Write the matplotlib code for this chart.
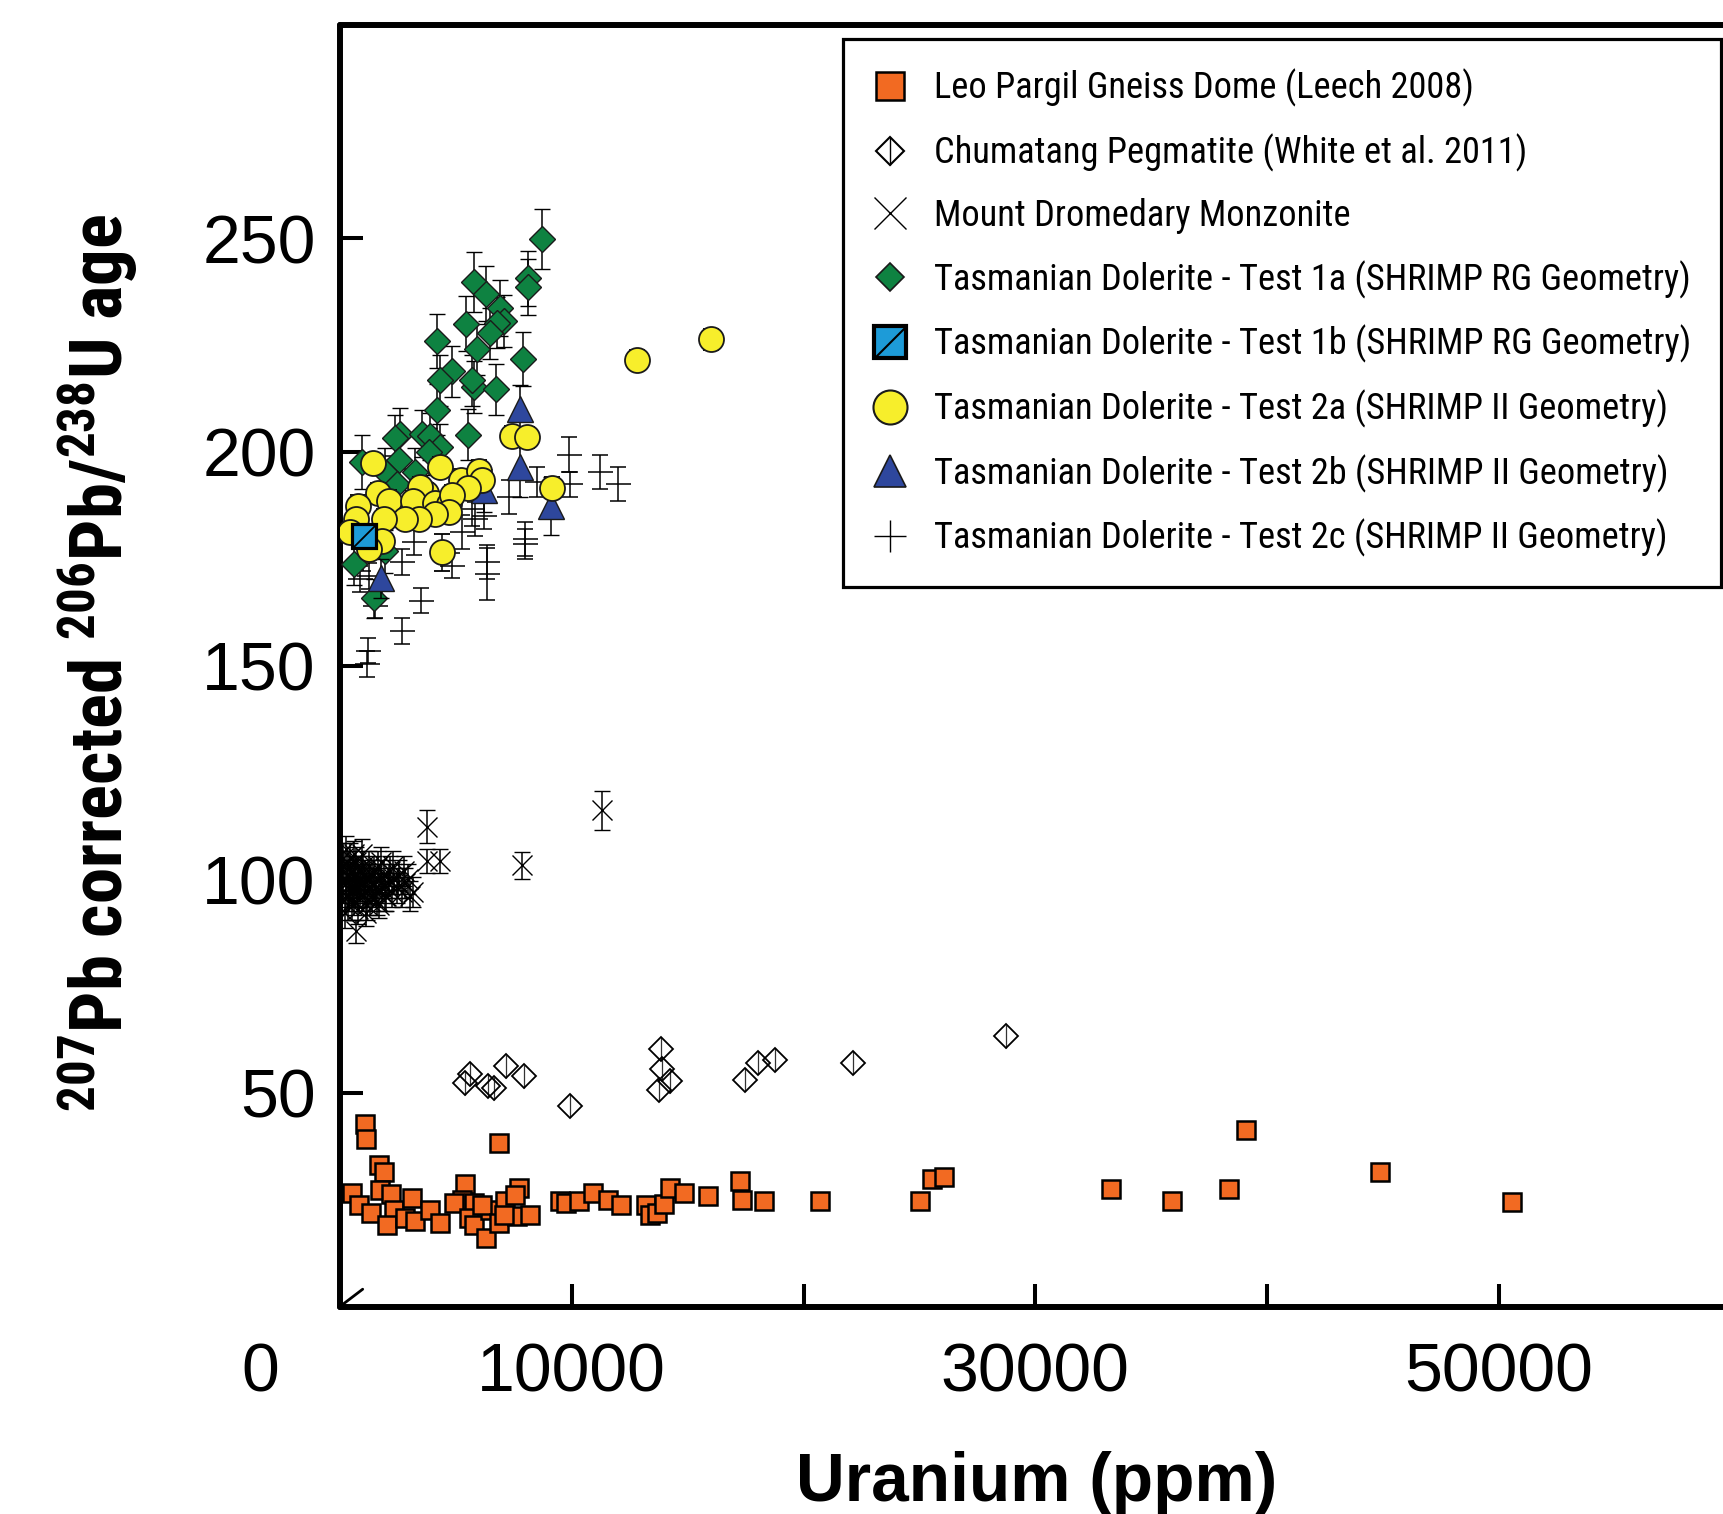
import matplotlib
matplotlib.use('Agg')
import matplotlib.pyplot as plt
from matplotlib import font_manager as fm
from matplotlib.lines import Line2D
from matplotlib.path import Path
from matplotlib.legend_handler import HandlerTuple

# ---------------- data ----------------
# Leo Pargil Gneiss Dome (Leech 2008)
lp_x = [1071, 1129, 6851, 1675, 1891, 525, 813, 1316, 1718, 2208, 2323, 2035, 3113, 2826, 3257,
        3904, 4336, 5414, 5270, 4910, 5773, 5557, 5773, 6320, 6463, 6133, 6851, 7140, 7714, 7571,
        7643, 8218, 7067, 9512, 9771, 10302, 10906, 11553, 12131, 13223, 13395, 13684, 13969, 14258,
        14832, 15868, 17278, 17352, 18314, 20690, 25022, 25539, 26061, 33244, 35893, 38356, 39107,
        44892, 50548]
lp_y = [42.7, 39.2, 38.2, 33.2, 31.4, 26.5, 23.8, 21.8, 27.3, 26.4, 22.6, 19.1, 25.4, 20.7, 20.1,
        22.6, 19.6, 28.7, 25.0, 24.2, 24.3, 20.7, 19.1, 16.0, 22.6, 23.8, 19.5, 24.6, 27.7, 26.1,
        21.2, 21.4, 21.4, 24.6, 24.2, 24.6, 26.5, 25.0, 23.8, 23.8, 21.4, 21.8, 24.0, 27.7,
        26.5, 25.9, 29.3, 25.0, 24.8, 24.6, 24.8, 29.8, 30.2, 27.6, 24.6, 27.4, 41.2,
        31.5, 24.4]

# Chumatang Pegmatite (White et al. 2011)
ch_x = [5410, 5626, 6398, 6648, 7174, 7934, 9918, 13745, 13861, 13912, 14241, 17459, 18037, 18783,
        22135, 28736]
ch_y = [52.3, 54.5, 51.7, 51.1, 56.2, 53.9, 47.0, 50.7, 60.3, 55.6, 52.7, 53.1, 57.0, 57.8, 57.0, 63.2]
ch_err = [2.7, 2.7, 2.7, 2.7, 2.7, 2.7, 2.7, 2.7, 2.7, 2.7, 2.7, 2.7, 2.7, 2.7, 2.7, 2.7]

# Mount Dromedary Monzonite
md_x = [120, 180, 260, 300, 340, 380, 420, 470, 520, 560, 610, 650, 700, 760, 800, 850, 900, 950,
        1000, 1050, 1100, 1160, 1200, 1260, 1300, 1360, 1420, 1480, 1540, 1600, 1680, 1750, 1820,
        1900, 1980, 2060, 2150, 2250, 2350, 2450, 2560, 2680, 2800, 2950, 3150,
        60, 90, 150, 220, 280, 330, 400, 450, 500, 580, 630, 720, 780, 880, 980, 1080, 1180, 1280,
        1400, 1520, 1650, 1780, 1950, 2100, 2300, 2500, 2750, 3000, 240, 620, 1120, 1700,
        669, 3762, 3762, 4336, 7860, 11283]
md_y = [99, 103, 96, 101, 94, 98, 105, 100, 97, 102, 95, 99, 104, 93, 100, 97, 102, 106, 96, 99,
        101, 94, 98, 103, 100, 96, 99, 102, 97, 95, 100, 104, 98, 101, 96, 99, 102, 97, 100, 98,
        101, 97, 99, 100, 97,
        101, 97, 105, 92, 99, 103, 96, 100, 94, 98, 101, 97, 102, 99, 103, 97, 100, 95, 101, 98,
        103, 99, 96, 100, 103, 99, 102, 96, 107, 106, 92, 94,
        87.8, 112.3, 104.2, 104.2, 103.2, 116.1]
md_err = [3.5, 3.5, 3.5, 3.5, 3.5, 3.5, 3.5, 3.5, 3.5, 3.5, 3.5, 3.5, 3.5, 3.5, 3.5, 3.5, 3.5, 3.5,
          3.5, 3.5, 3.5, 3.5, 3.5, 3.5, 3.5, 3.5, 3.5, 3.5, 3.5, 3.5, 3.5, 3.5, 3.5, 3.5, 3.5, 3.5,
          3.5, 3.5, 3.5, 3.5, 3.5, 3.5, 3.5, 3.5, 3.5,
          3.5, 3.5, 3.5, 3.5, 3.5, 3.5, 3.5, 3.5, 3.5, 3.5, 3.5, 3.5, 3.5, 3.5, 3.5, 3.5, 3.5, 3.5,
          3.5, 3.5, 3.5, 3.5, 3.5, 3.5, 3.5, 3.5, 3.5, 3.5, 3.0, 3.0, 3.0, 3.0,
          2.7, 3.9, 2.8, 2.8, 3.1, 4.6]

# Tasmanian Dolerite - Test 1a (SHRIMP RG Geometry)
ta_x = [8736, 8103, 8103, 5773, 6320, 6895, 7097, 6780, 6463, 5457, 4193, 5918, 7903, 4853, 4335,
        5802, 6737, 5702, 4193, 5530, 2610, 2394, 3546, 3904, 4336, 3831, 2537, 957, 3257, 1963,
        2467, 596, 1488, 1963]
ta_y = [249.8, 240.6, 238.6, 239.8, 237.0, 233.7, 230.6, 230.2, 227.7, 230.0, 225.9, 224.0, 221.7,
        218.8, 216.7, 215.2, 214.6, 216.7, 209.9, 204.0, 204.2, 203.2, 204.2, 203.7, 201.1, 200.0,
        198.0, 197.6, 195.3, 195.3, 192.5, 173.8, 165.7, 176.7]
ta_err = [7.0, 6.5, 6.5, 7.0, 6.5, 6.5, 6.0, 6.0, 6.0, 6.5, 6.3, 6.0, 6.3, 6.0, 6.0, 6.0, 6.0, 6.0,
          6.0, 6.0, 6.0, 5.5, 5.5, 5.5, 5.5, 5.5, 5.5, 6.3, 5.5, 5.5, 5.5, 5.0, 4.5, 5.0]

# Tasmanian Dolerite - Test 1b (SHRIMP RG Geometry)
tb_x = [1027]
tb_y = [180.4]

# Tasmanian Dolerite - Test 2a (SHRIMP II Geometry)
yc_x = [12804, 16027, 7442, 8063, 9150, 1432, 4336, 5242, 6018, 6134, 5531, 1648, 2106, 785, 3689,
        3473, 3141, 4120, 4695, 4840, 4695, 4120, 3400, 2826, 1890, 669, 453, 1820, 1243, 4409]
yc_y = [221.5, 226.3, 203.7, 203.4, 191.6, 197.4, 196.4, 193.5, 195.6, 193.5, 191.5, 190.4, 188.6,
        187.4, 190.4, 191.7, 188.4, 188.1, 187.8, 189.8, 185.9, 185.5, 184.3, 184.3, 184.3, 184.3,
        181.2, 179.2, 177.3, 176.5]
yc_err = [2.4, 2.4, 2.4, 2.4, 2.4, 2.4, 2.4, 2.4, 2.4, 2.4, 2.4, 2.4, 2.4, 2.4, 2.4, 2.4, 2.4, 2.4,
          2.4, 2.4, 2.4, 2.4, 2.4, 2.4, 2.4, 2.4, 2.4, 2.4, 2.4, 4.3]

# Tasmanian Dolerite - Test 2b (SHRIMP II Geometry)
tr_x = [7787, 7787, 9124, 1790, 6230]
tr_y = [210.1, 196.4, 187.3, 170.4, 191.0]
tr_err = [5.5, 7.0, 6.8, 4.5, 5.0]

# Tasmanian Dolerite - Test 2c (SHRIMP II Geometry)
pc_x = [9871, 11208, 11985, 9944, 8507, 7282, 8003, 7974, 6349, 6349, 5270, 5702, 5846, 4839, 3516,
        2683, 1216, 1173, 2683, 3184, 884, 1243, 1531, 6212, 2300, 1000, 600]
pc_y = [199.3, 195.3, 192.4, 192.4, 192.9, 189.4, 179.6, 178.5, 171.4, 174.2, 181.2, 186.7, 184.3,
        173.4, 165.2, 158.1, 153.5, 150.3, 174.2, 178.9, 170.3, 171.0, 164.0, 185.0, 196.0, 175.0,
        182.0]
pc_err = [4.1, 4.0, 4.0, 2.9, 3.5, 4.0, 3.9, 3.5, 6.0, 4.0, 4.0, 4.0, 4.0, 3.0, 3.0, 3.0, 3.0, 3.0,
          3.0, 3.0, 3.0, 3.0, 3.0, 3.0, 3.0, 3.0, 3.0]

x_ticks = [10000, 20000, 30000, 40000, 50000]
x_ticklabels = ['10000', '', '30000', '', '50000']
y_ticks = [50, 100, 150, 200, 250]
y_ticklabels = ['50', '100', '150', '200', '250']
origin_label = '0'

labels = ['Leo Pargil Gneiss Dome (Leech 2008)',
          'Chumatang Pegmatite (White et al. 2011)',
          'Mount Dromedary Monzonite',
          'Tasmanian Dolerite - Test 1a (SHRIMP RG Geometry)',
          'Tasmanian Dolerite - Test 1b (SHRIMP RG Geometry)',
          'Tasmanian Dolerite - Test 2a (SHRIMP II Geometry)',
          'Tasmanian Dolerite - Test 2b (SHRIMP II Geometry)',
          'Tasmanian Dolerite - Test 2c (SHRIMP II Geometry)']

# ---------------- style ----------------
ORANGE = '#F26A22'
GREEN = '#0E8241'
YELLOW = '#F7EE2B'
BLUE_TRI = '#2E479D'
BLUE_SQ = '#1D9BD8'

names = {f.name for f in fm.fontManager.ttflist}


def pick(*cands):
    for n in cands:
        if n in names:
            return n
    return 'DejaVu Sans'


SANS = pick('Liberation Sans', 'Arial', 'DejaVu Sans')
NARROW = pick('Liberation Sans Narrow', 'Roboto Condensed', 'Liberation Sans')
LEG = pick('Liberation Sans Narrow', 'Roboto Condensed', 'Lato', 'Open Sans')

plt.rcParams['font.family'] = [SANS, 'DejaVu Sans']
plt.rcParams['mathtext.fontset'] = 'custom'
plt.rcParams['mathtext.rm'] = NARROW
plt.rcParams['mathtext.bf'] = NARROW + ':bold'
plt.rcParams['mathtext.it'] = NARROW + ':italic'

W, H, DPI = 1723, 1514, 100
PT = DPI / 72.0
fig = plt.figure(figsize=(W / DPI, H / DPI), dpi=DPI)
renderer = fig.canvas.get_renderer()

ax = fig.add_axes([340 / W, 1 - 1306.5 / H, 1437 / W, 1282 / H])
ax.set_xlim(0, 62000)
ax.set_ylim(0, 300)

for s in ['left', 'top', 'bottom']:
    ax.spines[s].set_linewidth(4.3)
    ax.spines[s].set_capstyle('round')
ax.spines['right'].set_visible(False)

ax.set_xticks(x_ticks)
ax.set_xticklabels(x_ticklabels)
ax.set_yticks(y_ticks)
ax.set_yticklabels(y_ticklabels)
ax.tick_params(axis='both', direction='in', length=16.5, width=2.9, labelsize=49)
ax.tick_params(axis='x', pad=25)
ax.tick_params(axis='y', pad=17.5)

# origin: diagonal tick and shared "0" label
ax.annotate('', xy=(0, 0), xycoords='data', xytext=(22.7 / PT, 17.3 / PT),
            textcoords='offset points', annotation_clip=False,
            arrowprops=dict(arrowstyle='-', lw=2.0, color='black', shrinkA=0, shrinkB=0))
ax.annotate(origin_label, xy=(0, 0), xycoords='data', xytext=((260.4 - 340) / PT, -25),
            textcoords='offset points', ha='center', va='top', fontsize=49,
            annotation_clip=False)

ebkw = dict(ls='none', ecolor='black', elinewidth=1.1, capthick=1.1)

ax.plot(lp_x, lp_y, ls='none', marker='s', ms=12.8, mfc=ORANGE, mec='black', mew=1.8, zorder=3)
ax.errorbar(ch_x, ch_y, yerr=ch_err, ls='none', marker='D', ms=12.5, mfc='none', mec='black',
            mew=1.3, ecolor='#333333', elinewidth=0.9, capsize=0, zorder=3)
ax.errorbar(md_x, md_y, yerr=md_err, marker='x', ms=14.5, mew=1.0, color='black', capsize=6,
            zorder=4, **ebkw)
ax.errorbar(pc_x, pc_y, yerr=pc_err, marker='_', ms=18, mew=1.1, color='black', capsize=6,
            zorder=4, **ebkw)
ax.errorbar(ta_x, ta_y, yerr=ta_err, marker='D', ms=13.3, mfc=GREEN, mec='#1a1a1a', mew=1.0,
            capsize=6, zorder=5, **ebkw)
ax.errorbar(tr_x, tr_y, yerr=tr_err, marker='^', ms=18.5, mfc=BLUE_TRI, mec='#1a1a1a', mew=1.0,
            capsize=6, zorder=6, **ebkw)
ax.errorbar(yc_x, yc_y, yerr=yc_err, marker='o', ms=18, mfc=YELLOW, mec='#1a1a1a', mew=1.3,
            capsize=6, zorder=7, **ebkw)
DIAG = Path([(-1, -1), (1, 1)], [Path.MOVETO, Path.LINETO])
ax.plot(tb_x, tb_y, ls='none', marker='s', ms=17.5, mfc=BLUE_SQ, mec='black', mew=2.3, zorder=8)
ax.plot(tb_x, tb_y, ls='none', marker=DIAG, ms=17.5, mfc='none', mec='black', mew=1.3, zorder=9)

# ---------------- axis titles ----------------
ylab = fig.text(123 / W, 1 - 663.2 / H,
                r'$\mathbf{{}^{207}Pb\ corrected\ {}^{206}Pb/{}^{238}U\ age}$',
                rotation=90, rotation_mode='anchor', ha='center', va='baseline', fontsize=55)
xlab = fig.text(1036.3 / W, 1 - 1501 / H, 'Uranium (ppm)', ha='center', va='baseline',
                fontsize=49, fontweight='bold', family=[SANS, 'DejaVu Sans'])


def fit(t, target, dim):
    for _ in range(3):
        bb = t.get_window_extent(renderer)
        cur = bb.height if dim == 'h' else bb.width
        if cur > 0:
            t.set_fontsize(t.get_fontsize() * target / cur)


fit(ylab, 898, 'h')
fit(xlab, 481, 'w')

# ---------------- legend ----------------
tmp = fig.text(0, 0, labels[4], family=[LEG, 'DejaVu Sans'], fontsize=26)
fit(tmp, 758, 'w')
LF = tmp.get_fontsize()
tmp.remove()
LFpx = LF * PT

h_lp = Line2D([], [], ls='none', marker='s', ms=20.5, mfc=ORANGE, mec='black', mew=1.8)
h_ch = (Line2D([], [], ls='none', marker='D', ms=14.7, mfc='none', mec='black', mew=1.5),
        Line2D([], [], ls='none', marker='|', ms=20.5, mec='black', mew=1.0))
h_md = Line2D([], [], ls='none', marker='x', ms=23, mec='black', mew=1.0)
h_ta = Line2D([], [], ls='none', marker='D', ms=14.7, mfc=GREEN, mec='#1a1a1a', mew=1.2)
h_tb = (Line2D([], [], ls='none', marker='s', ms=23, mfc=BLUE_SQ, mec='black', mew=3.0),
        Line2D([], [], ls='none', marker=DIAG, ms=23, mec='black', mew=1.5))
h_yc = Line2D([], [], ls='none', marker='o', ms=24.5, mfc=YELLOW, mec='#1a1a1a', mew=1.5)
h_tr = Line2D([], [], ls='none', marker='^', ms=23, mfc=BLUE_TRI, mec='#1a1a1a', mew=1.2)
h_pc = Line2D([], [], ls='none', marker='+', ms=23, mec='black', mew=1.0)
handles = [h_lp, h_ch, h_md, h_ta, h_tb, h_yc, h_tr, h_pc]

leg = fig.legend(handles, labels, loc='upper left',
                 bbox_to_anchor=(843 / W, 1 - 39.4 / H), bbox_transform=fig.transFigure,
                 borderaxespad=0, fancybox=False, frameon=True, edgecolor='black', framealpha=1,
                 prop=dict(family=[LEG, 'DejaVu Sans'], size=LF),
                 handlelength=35 / LFpx, handleheight=0.7, handletextpad=26.5 / LFpx,
                 borderpad=29.5 / LFpx, labelspacing=(68.5 - 1.16 * LFpx) / LFpx,
                 handler_map={tuple: HandlerTuple(ndivide=1, pad=0)})
leg.get_frame().set_linewidth(2.3)

fig.savefig('out.png', dpi=DPI)
